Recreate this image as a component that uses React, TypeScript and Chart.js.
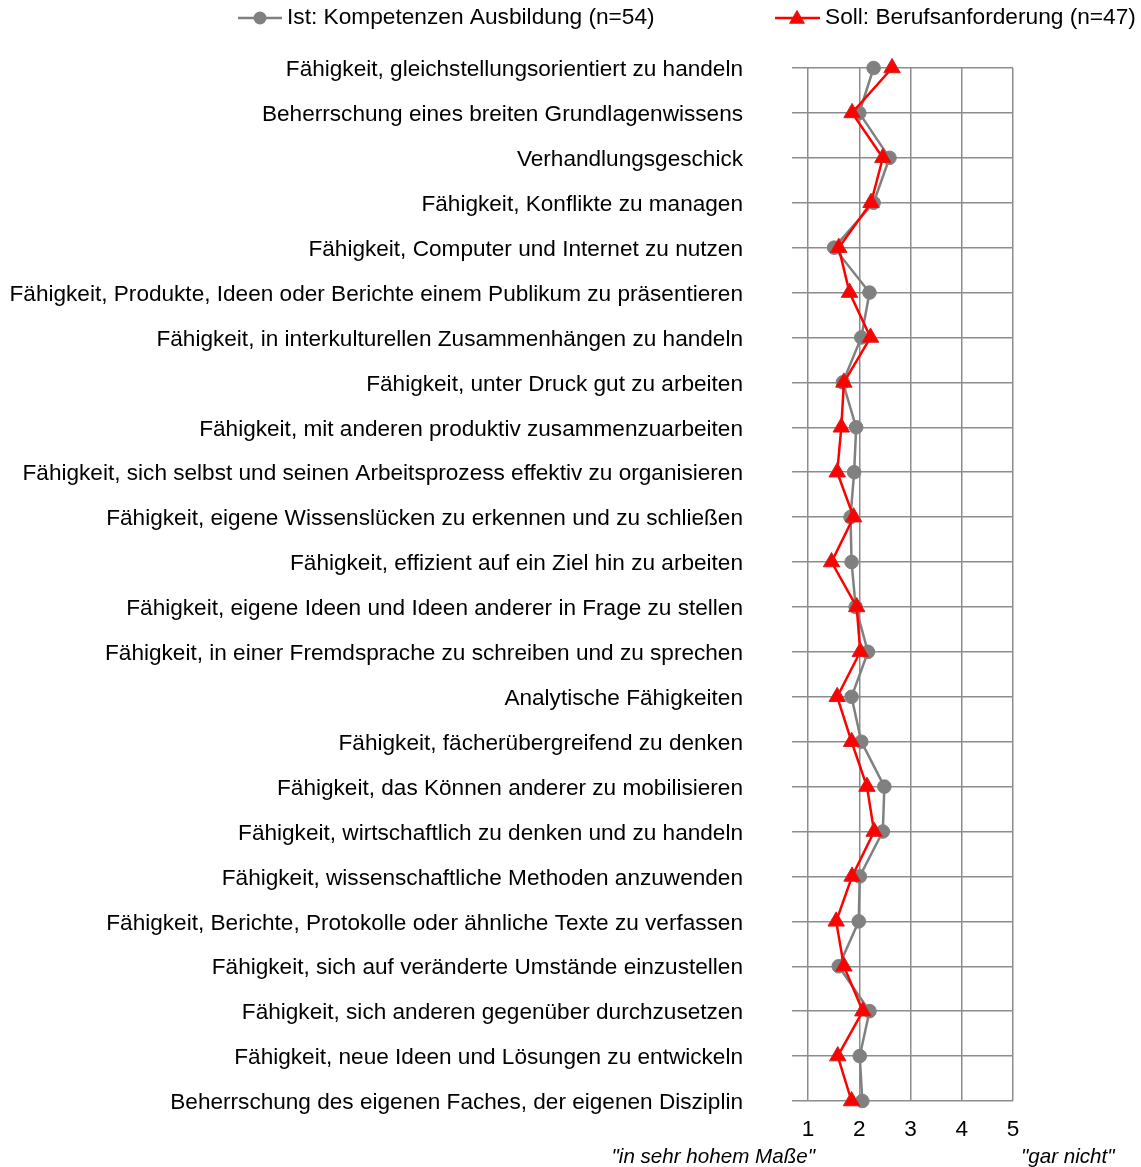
import React, { useEffect, useRef } from 'react';
import { Chart, registerables } from 'chart.js';

Chart.register(...registerables);

const categories: string[] = [
  'Fähigkeit, gleichstellungsorientiert zu handeln',
  'Beherrschung eines breiten Grundlagenwissens',
  'Verhandlungsgeschick',
  'Fähigkeit, Konflikte zu managen',
  'Fähigkeit, Computer und Internet zu nutzen',
  'Fähigkeit, Produkte, Ideen oder Berichte einem Publikum zu präsentieren',
  'Fähigkeit, in interkulturellen Zusammenhängen zu handeln',
  'Fähigkeit, unter Druck gut zu arbeiten',
  'Fähigkeit, mit anderen produktiv zusammenzuarbeiten',
  'Fähigkeit, sich selbst und seinen Arbeitsprozess effektiv zu organisieren',
  'Fähigkeit, eigene Wissenslücken zu erkennen und zu schließen',
  'Fähigkeit, effizient auf ein Ziel hin zu arbeiten',
  'Fähigkeit, eigene Ideen und Ideen anderer in Frage zu stellen',
  'Fähigkeit, in einer Fremdsprache zu schreiben und zu sprechen',
  'Analytische Fähigkeiten',
  'Fähigkeit, fächerübergreifend zu denken',
  'Fähigkeit, das Können anderer zu mobilisieren',
  'Fähigkeit, wirtschaftlich zu denken und zu handeln',
  'Fähigkeit, wissenschaftliche Methoden anzuwenden',
  'Fähigkeit, Berichte, Protokolle oder ähnliche Texte zu verfassen',
  'Fähigkeit, sich auf veränderte Umstände einzustellen',
  'Fähigkeit, sich anderen gegenüber durchzusetzen',
  'Fähigkeit, neue Ideen und Lösungen zu entwickeln',
  'Beherrschung des eigenen Faches, der eigenen Disziplin',
];

const istValues: number[] = [
  2.28, 2.0, 2.59, 2.28, 1.51, 2.2, 2.04, 1.68, 1.94, 1.9, 1.83, 1.85,
  1.93, 2.17, 1.85, 2.04, 2.49, 2.46, 2.01, 1.99, 1.6, 2.2, 2.01, 2.06,
];

const sollValues: number[] = [
  2.64, 1.86, 2.46, 2.23, 1.6, 1.81, 2.22, 1.7, 1.65, 1.57, 1.89, 1.46,
  1.95, 2.02, 1.57, 1.85, 2.15, 2.29, 1.86, 1.55, 1.7, 2.07, 1.58, 1.85,
];

const seriesNames: string[] = [
  'Ist: Kompetenzen Ausbildung (n=54)',
  'Soll: Berufsanforderung (n=47)',
];

const xTickValues: number[] = [1, 2, 3, 4, 5];
const axisNotes: string[] = ['"in sehr hohem Maße"', '"gar nicht"'];

const FONT = '"Liberation Sans", Arial, Helvetica, sans-serif';
const LABEL_SIZE = 22.6;
const LEGEND_SIZE = 22.7;
const NOTE_SIZE = 20.6;
const GRAY = '#808080';
const GRID = '#8c8c8c';
const RED = '#ff0000';

function drawTriangle(ctx: CanvasRenderingContext2D, x: number, y: number, r: number) {
  ctx.beginPath();
  let rad = 0;
  ctx.moveTo(x + Math.sin(rad) * r, y - Math.cos(rad) * r);
  rad += (2 * Math.PI) / 3;
  ctx.lineTo(x + Math.sin(rad) * r, y - Math.cos(rad) * r);
  rad += (2 * Math.PI) / 3;
  ctx.lineTo(x + Math.sin(rad) * r, y - Math.cos(rad) * r);
  ctx.closePath();
}

const overlayPlugin = {
  id: 'overlayTexts',
  afterDraw(chart: any) {
    const ctx: CanvasRenderingContext2D = chart.ctx;
    const x = chart.scales.x;
    ctx.save();
    // axis notes
    ctx.font = `italic ${NOTE_SIZE}px ${FONT}`;
    ctx.fillStyle = '#000';
    ctx.textBaseline = 'middle';
    ctx.textAlign = 'right';
    ctx.fillText(axisNotes[0], x.getPixelForValue(xTickValues[0]) + 7, 1157);
    ctx.textAlign = 'left';
    ctx.fillText(axisNotes[1], x.getPixelForValue(xTickValues[xTickValues.length - 1]) + 8, 1157);

    // legend
    const ly = 18;
    ctx.font = `${LEGEND_SIZE}px ${FONT}`;
    ctx.textAlign = 'left';
    // Ist
    ctx.strokeStyle = GRAY;
    ctx.lineWidth = 2.5;
    ctx.beginPath();
    ctx.moveTo(238, ly);
    ctx.lineTo(282, ly);
    ctx.stroke();
    ctx.fillStyle = GRAY;
    ctx.beginPath();
    ctx.arc(260, ly, 6.5, 0, Math.PI * 2);
    ctx.fill();
    ctx.fillStyle = '#000';
    ctx.fillText(seriesNames[0], 287, ly);
    // Soll
    ctx.strokeStyle = RED;
    ctx.beginPath();
    ctx.moveTo(775, ly);
    ctx.lineTo(820, ly);
    ctx.stroke();
    ctx.fillStyle = RED;
    drawTriangle(ctx, 797, ly + 1, 8.5);
    ctx.fill();
    ctx.strokeStyle = '#d02020';
    ctx.lineWidth = 1;
    ctx.stroke();
    ctx.fillStyle = '#000';
    ctx.fillText(seriesNames[1], 825, ly);
    ctx.restore();
  },
};

export default function App() {
  const canvasRef = useRef<HTMLCanvasElement | null>(null);

  useEffect(() => {
    document.body.style.margin = '0';
    const canvas = canvasRef.current;
    if (!canvas) return;
    const chart = new Chart(canvas, {
      type: 'line',
      data: {
        labels: categories,
        datasets: [
          {
            label: seriesNames[0],
            data: istValues,
            borderColor: GRAY,
            backgroundColor: GRAY,
            borderWidth: 2.5,
            pointStyle: 'circle',
            pointRadius: 6.8,
            pointBorderWidth: 1,
            pointBorderColor: GRAY,
            pointBackgroundColor: GRAY,
            tension: 0,
            clip: false,
            order: 2,
          } as any,
          {
            label: seriesNames[1],
            data: sollValues,
            borderColor: RED,
            backgroundColor: RED,
            borderWidth: 2.5,
            pointStyle: 'triangle',
            pointRadius: 9.5,
            pointBorderWidth: 1,
            pointBorderColor: '#d02020',
            pointBackgroundColor: RED,
            tension: 0,
            clip: false,
            order: 1,
          } as any,
        ],
      },
      options: {
        indexAxis: 'y',
        responsive: false,
        animation: false,
        maintainAspectRatio: false,
        layout: { padding: { top: 68, right: 128, bottom: 0, left: 0 } },
        plugins: {
          legend: { display: false },
          tooltip: { enabled: false },
        },
        scales: {
          x: {
            type: 'linear',
            position: 'bottom',
            min: 1,
            max: 5,
            afterBuildTicks: (scale: any) => {
              scale.ticks = xTickValues.map((v) => ({ value: v }));
            },
            afterFit: (scale: any) => {
              scale.height = 66;
            },
            ticks: {
              color: '#000',
              font: { family: FONT, size: LABEL_SIZE },
              padding: 15,
            },
            grid: {
              color: GRID,
              lineWidth: 1.5,
              drawTicks: false,
            },
            border: { display: false },
          },
          y: {
            type: 'category',
            offset: false,
            afterFit: (scale: any) => {
              scale.width = 808;
            },
            ticks: {
              color: '#000',
              font: { family: FONT, size: LABEL_SIZE },
              padding: 49,
              labelOffset: 2,
              autoSkip: false,
            },
            grid: {
              color: GRID,
              lineWidth: 1.5,
              drawTicks: true,
              tickLength: 16,
              offset: false,
            },
            border: { display: false },
          },
        },
      } as any,
      plugins: [overlayPlugin],
    });
    return () => chart.destroy();
  }, []);

  return (
    <div style={{ width: 1141, height: 1167, position: 'relative' }}>
      <canvas ref={canvasRef} width={1141} height={1167} style={{ display: 'block' }} />
    </div>
  );
}
